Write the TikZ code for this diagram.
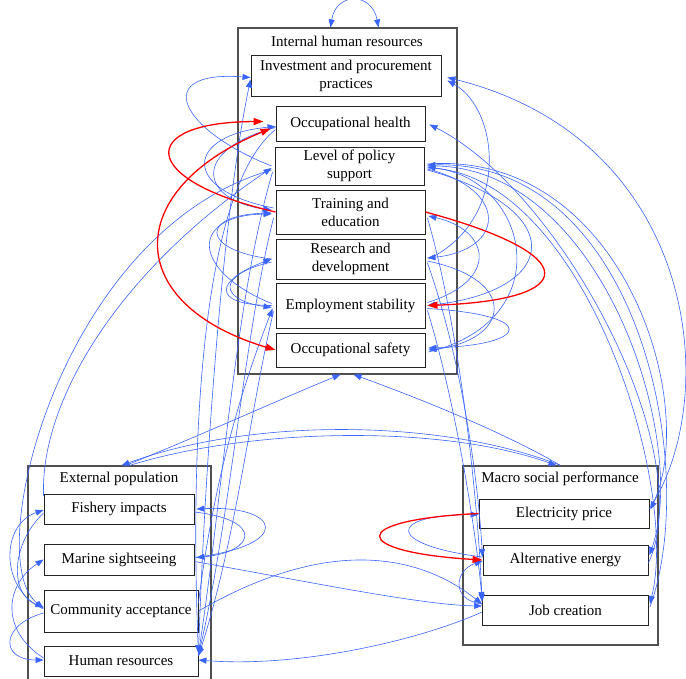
\documentclass[tikz,border=0pt]{standalone}
\usepackage{fontspec}
\setmainfont{Liberation Serif}
\usetikzlibrary{arrows.meta,calc}
\definecolor{edgeblue}{RGB}{58,100,255}
\definecolor{edgered}{RGB}{255,0,0}
\definecolor{clustergray}{RGB}{80,80,80}
\definecolor{boxgray}{RGB}{35,35,35}
\begin{document}
\begin{tikzpicture}[x=1pt,y=-1pt,
  cluster/.style={draw=clustergray,line width=1.1pt,inner sep=0pt},
  title/.style={inner sep=0pt,font=\fontsize{15}{18}\selectfont},
  box/.style={draw=boxgray,line width=0.9pt,inner sep=0pt,align=center,font=\fontsize{15}{18}\selectfont},
  blueedge/.style={draw=edgeblue,line width=0.6pt,-{Triangle[length=8pt,width=6pt]}},
  blueboth/.style={draw=edgeblue,line width=0.6pt,{Triangle[length=8pt,width=6pt]}-{Triangle[length=8pt,width=6pt]}},
  rededge/.style={draw=edgered,line width=1.3pt,-{Triangle[length=10pt,width=7pt]}},
  redboth/.style={draw=edgered,line width=1.3pt,{Triangle[length=10pt,width=7pt]}-{Triangle[length=10pt,width=7pt]}}]
\useasboundingbox (0,0) rectangle (686,678);

% ---------- clusters ----------
\node[cluster,minimum width=219,minimum height=346] (ihr) at (347.5,201) {};
\node[title] (ihrt) at (347,41) {Internal human resources};
\node[cluster,minimum width=183,minimum height=234] (epc) at (119.5,583) {};
\node[title] (epct) at (119,479) {External population};
\node[cluster,minimum width=195,minimum height=179] (mpc) at (560.5,555.5) {};
\node[title] (mpct) at (560,479) {Macro social performance};

% ---------- internal human resources ----------
\node[box,minimum width=190,minimum height=41] (inv) at (346,75.5) {Investment and procurement\\practices};
\node[box,minimum width=149,minimum height=35] (oh) at (350.5,123.5) {Occupational health};
\node[box,minimum width=149,minimum height=38] (lps) at (349.5,166) {Level of policy\\support};
\node[box,minimum width=149,minimum height=44] (te) at (350.5,212) {Training and\\education};
\node[box,minimum width=149,minimum height=40] (rd) at (350.5,259) {Research and\\development};
\node[box,minimum width=149,minimum height=45] (es) at (350.5,305.5) {Employment stability};
\node[box,minimum width=149,minimum height=34] (os) at (350.5,350) {Occupational safety};

% ---------- external population ----------
\node[box,minimum width=150,minimum height=30] (fi) at (119,509) {Fishery impacts};
\node[box,minimum width=150,minimum height=31] (ms) at (119,559.5) {Marine sightseeing};
\node[box,minimum width=154,minimum height=42] (ca) at (121,611) {Community acceptance};
\node[box,minimum width=154,minimum height=30] (hr) at (121,661) {Human resources};

% ---------- macro social performance ----------
\node[box,minimum width=170,minimum height=29] (ep) at (564,513.5) {Electricity price};
\node[box,minimum width=165,minimum height=30] (ae) at (565.5,560) {Alternative energy};
\node[box,minimum width=166,minimum height=30] (jc) at (565.5,610) {Job creation};

% ---------- cluster-level links ----------
\draw[blueboth] ($(ihr.north)+(-17,0)$) .. controls (336,-8) and (372,-8) .. ($(ihr.north)+(31,0)$);
\draw[blueedge] ($(epc.north)+(6,0)$) .. controls (190,440) and (290,395) .. ($(ihr.south)+(-7,0)$);
\draw[blueedge] (mpc.north) .. controls (500,430) and (410,395) .. ($(ihr.south)+(6,0)$);
\draw[blueedge] (mpc.north) .. controls (440,418) and (250,418) .. ($(epc.north)+(2,0)$);
\draw[blueedge] ($(epc.north)+(10,0)$) .. controls (250,428) and (440,424) .. ($(mpc.north)+(-4,0)$);

% ---------- internal, left side ----------
\draw[blueedge] ($(lps.west)+(-3,0)$) .. controls (180,130) and (150,70) .. ($(inv.west)+(0,2)$);
\draw[blueedge] ($(te.west)+(-2,-4)$) .. controls (180,190) and (185,135) .. ($(oh.west)+(0,3)$);
\draw[blueedge] ($(oh.west)+(0,4)$) .. controls (190,150) and (200,200) .. ($(te.west)+(-4,-2)$);
\draw[blueedge] ($(rd.west)+(-4,0)$) .. controls (200,250) and (200,215) .. ($(te.west)+(-4,1)$);
\draw[blueedge] ($(es.west)+(-4,-2)$) .. controls (190,270) and (190,215) .. ($(te.west)+(-4,2)$);
\draw[blueedge] ($(es.west)+(-4,0)$) .. controls (210,305) and (215,280) .. ($(rd.west)+(-4,0)$);
\draw[blueedge] ($(rd.west)+(-4,3)$) .. controls (215,275) and (220,300) .. ($(es.west)+(-4,2)$);

% ---------- internal, right side ----------
\draw[blueedge] ($(rd.east)+(3,0)$) .. controls (510,220) and (500,110) .. ($(inv.east)+(6,5)$);
\draw[blueedge] ($(lps.east)+(3,3)$) .. controls (510,190) and (505,250) .. ($(rd.east)+(2,-1)$);
\draw[blueedge] ($(lps.east)+(3,4)$) .. controls (570,210) and (560,290) .. ($(es.east)+(2,0)$);
\draw[blueedge] ($(es.east)+(2,3)$) .. controls (540,315) and (530,345) .. ($(os.east)+(3,-2)$);
\draw[blueedge] ($(rd.east)+(2,2)$) .. controls (520,280) and (510,340) .. ($(os.east)+(3,0)$);
\draw[blueedge] ($(es.east)+(2,-3)$) .. controls (500,280) and (490,230) .. ($(te.east)+(3,4)$);
\draw[blueedge] ($(os.east)+(3,2)$) .. controls (560,320) and (530,180) .. ($(lps.east)+(3,1)$);

% ---------- internal to macro, far right ----------
\draw[blueedge] ($(ep.east)+(0,-5)$) .. controls (722,400) and (700,140) .. ($(inv.east)+(6,2)$);
\draw[blueedge] ($(lps.east)+(3,-2)$) .. controls (620,150) and (700,400) .. ($(ep.east)+(1,-4)$);
\draw[blueedge] ($(lps.east)+(3,0)$) .. controls (600,160) and (690,440) .. ($(ae.east)+(1,-5)$);
\draw[blueedge] ($(lps.east)+(3,2)$) .. controls (580,170) and (680,480) .. ($(jc.east)+(1,-6)$);
\draw[blueedge] ($(jc.east)+(1,-3)$) .. controls (700,470) and (640,160) .. ($(lps.east)+(3,-1)$);
\draw[blueedge] ($(ae.east)+(0,3)$) .. controls (700,450) and (560,190) .. ($(oh.east)+(4,1)$);

% ---------- internal to macro, lower right ----------
\draw[blueedge] ($(te.east)+(2,6)$) .. controls (460,330) and (478,500) .. ($(jc.west)+(0,-8)$);
\draw[blueedge] ($(rd.east)+(2,4)$) .. controls (462,360) and (478,480) .. ($(ae.west)+(0,-3)$);
\draw[blueedge] ($(es.east)+(2,5)$) .. controls (455,400) and (476,530) .. ($(jc.west)+(0,-10)$);

% ---------- macro social performance ----------
\draw[blueedge] ($(ae.west)+(0,-3)$) .. controls (386,545) and (386,515) .. ($(ep.west)+(0,1)$);
\draw[blueedge] ($(jc.west)+(0,-6)$) .. controls (450,600) and (455,570) .. ($(ae.west)+(0,1)$);

% ---------- internal to external ----------
\draw[blueedge] ($(hr.east)+(0,-6)$) .. controls (205,450) and (225,200) .. ($(inv.west)+(0,4)$);
\draw[blueedge] ($(oh.west)+(0,6)$) .. controls (200,190) and (190,450) .. ($(hr.east)+(0,-8)$);
\draw[blueedge] ($(lps.west)+(-2,6)$) .. controls (235,300) and (222,500) .. ($(hr.east)+(0,-7)$);
\draw[blueedge] ($(te.west)+(-2,6)$) .. controls (245,330) and (230,520) .. ($(hr.east)+(0,-6)$);
\draw[blueedge] ($(es.west)+(-2,6)$) .. controls (252,400) and (236,540) .. ($(hr.east)+(0,-5)$);
\draw[blueedge] ($(ca.east)+(0,-8)$) .. controls (215,470) and (245,380) .. ($(es.west)+(-3,3)$);
\draw[blueedge] ($(fi.north west)+(0,2)$) .. controls (40,400) and (120,270) .. ($(lps.west)+(-3,2)$);
\draw[blueedge] ($(lps.west)+(-3,4)$) .. controls (60,230) and (-20,560) .. ($(ca.west)+(0,-3)$);

% ---------- external population ----------
\draw[blueedge] ($(ca.west)+(0,-2)$) .. controls (0,590) and (0,525) .. ($(fi.west)+(0,1)$);
\draw[blueedge] ($(hr.west)+(0,-3)$) .. controls (0,630) and (5,585) .. (ms.west);
\draw[blueedge] ($(fi.west)+(0,4)$) .. controls (10,545) and (10,595) .. ($(ca.west)+(0,-4)$);
\draw[blueedge] ($(ca.west)+(0,2)$) .. controls (0,625) and (0,660) .. ($(hr.west)+(0,-1)$);
\draw[blueedge] ($(ms.east)+(0,-2)$) .. controls (295,545) and (280,505) .. ($(fi.east)+(2,0)$);
\draw[blueedge] ($(fi.east)+(0,3)$) .. controls (265,520) and (255,552) .. ($(ms.east)+(2,-2)$);

% ---------- external to macro ----------
\draw[blueedge] ($(ms.east)+(0,2)$) .. controls (300,580) and (420,605) .. ($(jc.west)+(0,-4)$);
\draw[blueedge] (ca.east) .. controls (330,535) and (420,555) .. ($(jc.west)+(0,-6)$);
\draw[blueedge] ($(jc.west)+(0,2)$) .. controls (420,640) and (300,668) .. ($(hr.east)+(0,-1)$);

% ---------- highlighted links ----------
\draw[rededge] (te.west) .. controls (137,180) and (137,122) .. ($(oh.west)+(-12,-2)$);
\draw[redboth] ($(oh.west)+(-5,5)$) .. controls (122,190) and (122,304) .. (os.west);
\draw[rededge] (te.east) .. controls (585,255) and (580,300) .. ($(es.east)+(2,0)$);
\draw[rededge] (ep.west) .. controls (345,520) and (350,552) .. (ae.west);
\end{tikzpicture}
\end{document}
